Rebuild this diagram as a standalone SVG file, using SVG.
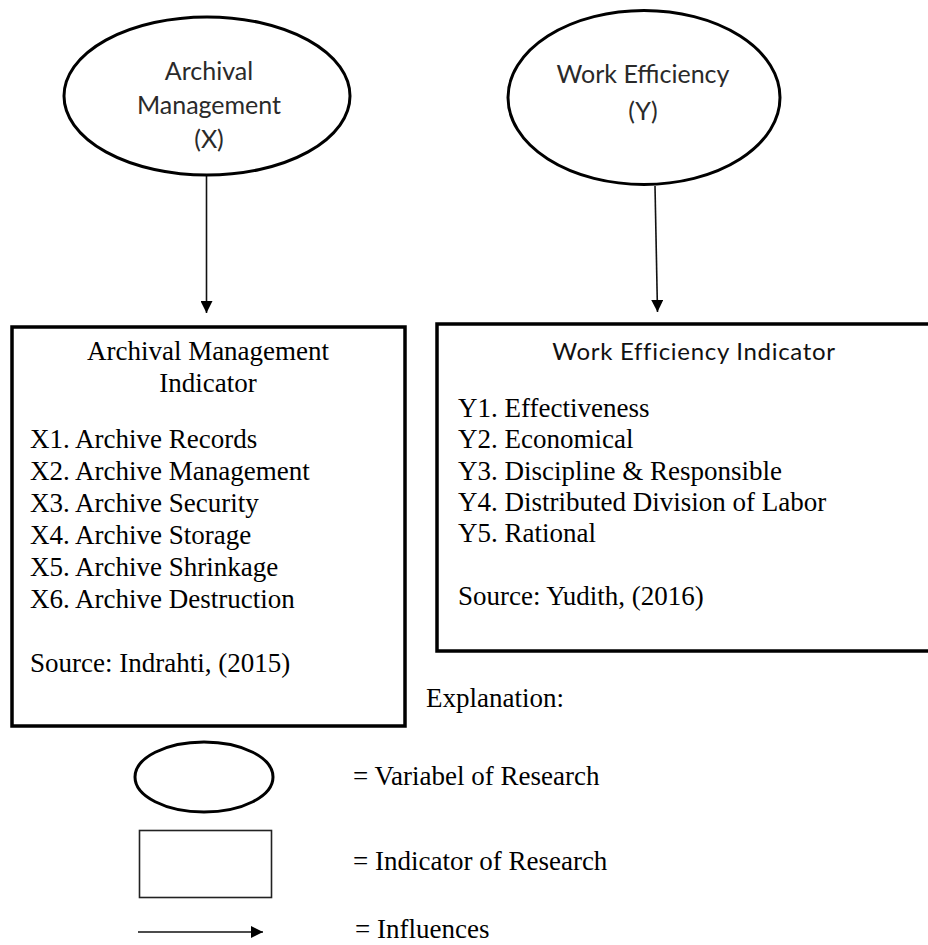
<svg xmlns="http://www.w3.org/2000/svg" width="928" height="945" viewBox="0 0 928 945">
<style>
.bg{fill:#ffffff}
.var{fill:#ffffff;stroke:#000;stroke-width:3}
.box{fill:#ffffff;stroke:#000;stroke-width:3.5}
.thin{fill:#ffffff;stroke:#222;stroke-width:1.6}
.conn{stroke:#111;stroke-width:1.6;fill:none}
.sans{font-family:Lato,"Noto Sans","DejaVu Sans",sans-serif;fill:#2a2a2a}
.serif{font-family:"Liberation Serif","Times New Roman",serif;fill:#000;font-size:27px}
</style>
<defs>
<marker id="ah" viewBox="0 0 12 12" refX="12" refY="6" markerWidth="12" markerHeight="12" markerUnits="userSpaceOnUse" orient="auto">
<path d="M0,0 L12,6 L0,12 Z" fill="#000"/>
</marker>
</defs>
<rect class="bg" x="0" y="0" width="928" height="945"/>

<g id="connectors">
<line class="conn" x1="206.5" y1="176" x2="206.5" y2="313" marker-end="url(#ah)"/>
<line class="conn" x1="655" y1="186" x2="657.5" y2="312" marker-end="url(#ah)"/>
</g>

<g id="var-x">
<ellipse class="var" cx="207" cy="96" rx="143" ry="79"/>
<text class="sans" font-size="25" text-anchor="middle" x="209" y="80">Archival</text>
<text class="sans" font-size="25" text-anchor="middle" x="209" y="114">Management</text>
<text class="sans" font-size="25" text-anchor="middle" x="209" y="148">(X)</text>
</g>

<g id="var-y">
<ellipse class="var" cx="644" cy="97.5" rx="136" ry="87"/>
<text class="sans" font-size="25" text-anchor="middle" x="643" y="83">Work Efficiency</text>
<text class="sans" font-size="25" text-anchor="middle" x="643" y="120">(Y)</text>
</g>

<g id="ind-x">
<rect class="box" x="12" y="327" width="393" height="399"/>
<text class="serif" text-anchor="middle" x="208" y="360">Archival Management</text>
<text class="serif" text-anchor="middle" x="208" y="392">Indicator</text>
<text class="serif" x="30" y="448">X1. Archive Records</text>
<text class="serif" x="30" y="480">X2. Archive Management</text>
<text class="serif" x="30" y="512">X3. Archive Security</text>
<text class="serif" x="30" y="544">X4. Archive Storage</text>
<text class="serif" x="30" y="576">X5. Archive Shrinkage</text>
<text class="serif" x="30" y="608">X6. Archive Destruction</text>
<text class="serif" x="30" y="672">Source: Indrahti, (2015)</text>
</g>

<g id="ind-y">
<rect class="box" x="437" y="324" width="510" height="327"/>
<text class="sans" font-size="24" style="fill:#111;letter-spacing:0.7px" text-anchor="middle" x="694" y="360">Work Efficiency Indicator</text>
<text class="serif" x="458" y="417">Y1. Effectiveness</text>
<text class="serif" x="458" y="448">Y2. Economical</text>
<text class="serif" x="458" y="480">Y3.  Discipline &amp; Responsible</text>
<text class="serif" x="458" y="511">Y4. Distributed Division of Labor</text>
<text class="serif" x="458" y="542">Y5. Rational</text>
<text class="serif" x="458" y="605">Source: Yudith, (2016)</text>
</g>

<g id="legend">
<text class="serif" x="426" y="707">Explanation:</text>
<ellipse class="var" cx="204" cy="777" rx="69" ry="35"/>
<text class="serif" x="353" y="785">= Variabel of Research</text>
<rect class="thin" x="139.5" y="830.5" width="132" height="67"/>
<text class="serif" x="353" y="870">= Indicator of Research</text>
<line class="conn" x1="138" y1="932" x2="263" y2="932" marker-end="url(#ah)"/>
<text class="serif" x="355" y="938">= Influences</text>
</g>
</svg>
